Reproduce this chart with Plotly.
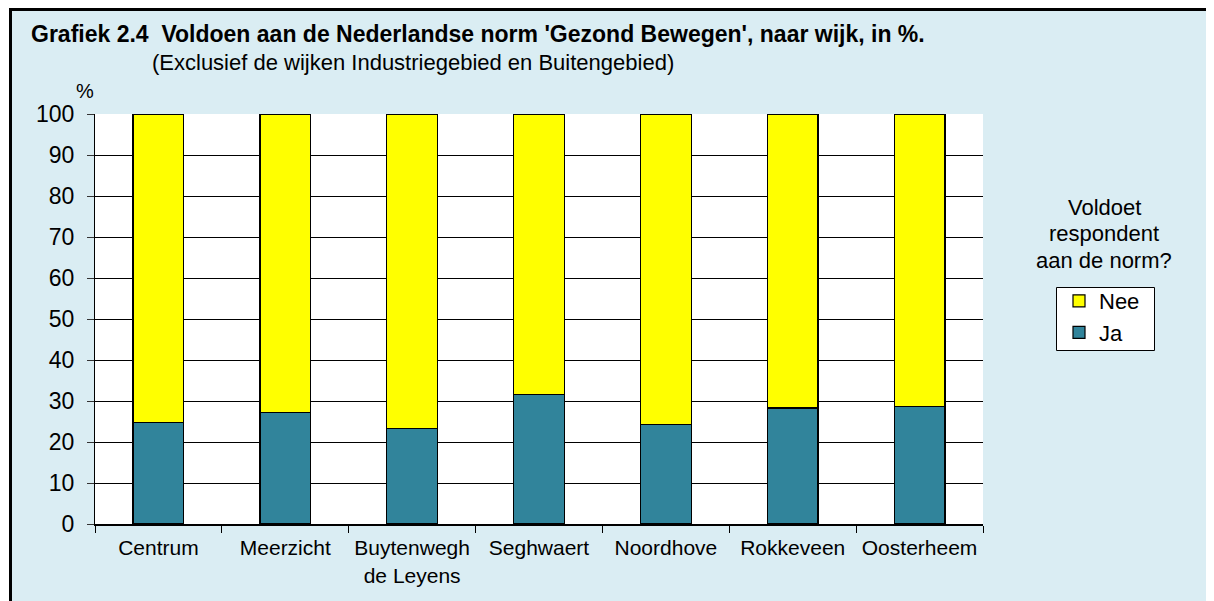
import plotly.graph_objects as go

wijken = ["Centrum", "Meerzicht", "Buytenwegh<br>de Leyens", "Seghwaert",
          "Noordhove", "Rokkeveen", "Oosterheem"]
ja = [24.7, 27.2, 23.3, 31.5, 24.3, 28.3, 28.7]
nee = [round(100 - v, 1) for v in ja]
y_ticks = list(range(0, 101, 10))
legend_title = ["Voldoet", "respondent", "aan de norm?"]

FONT = "Arial, Liberation Sans, sans-serif"
BG = "#DAEDF3"
OFF = 8  # page body margin
W, H = 1214 - OFF, 601 - OFF
# plot area in screen pixels
SL, SR, ST, SB = 95, 983, 114, 524
L, T = SL - OFF, ST - OFF
R, B = W - (SR - OFF), H - (SB - OFF)
pw, ph = SR - SL, SB - ST


def px(x):
    return (x - SL) / pw


def py(y):
    return (SB - y) / ph


fig = go.Figure()
fig.add_trace(go.Bar(x=wijken, y=ja, name="Ja", legendrank=2,
                     marker=dict(color="#31849B", line=dict(color="black", width=1.2)),
                     width=0.4))
fig.add_trace(go.Bar(x=wijken, y=nee, name="Nee", legendrank=1,
                     marker=dict(color="#FFFF00", line=dict(color="black", width=1.2)),
                     width=0.4))

annotations = [
    dict(text="<b>Grafiek 2.4  Voldoen aan de Nederlandse norm 'Gezond Bewegen', naar wijk, in %.</b>",
         xref="paper", yref="paper", x=px(30), y=py(34), xanchor="left", yanchor="middle",
         showarrow=False, font=dict(size=23), borderpad=0),
    dict(text="(Exclusief de wijken Industriegebied en Buitengebied)",
         xref="paper", yref="paper", x=px(151), y=py(63), xanchor="left", yanchor="middle",
         showarrow=False, font=dict(size=22), borderpad=0),
    dict(text="%", xref="paper", yref="paper", x=px(85), y=py(91), xanchor="center", yanchor="middle",
         showarrow=False, font=dict(size=20), borderpad=0),
]
for i, line in enumerate(legend_title):
    annotations.append(dict(text=line, xref="paper", yref="paper",
                            x=px(1104), y=py(207 + 26.5 * i), xanchor="center", yanchor="middle",
                            showarrow=False, font=dict(size=22), borderpad=0))

fig.update_layout(
    width=W, height=H,
    margin=dict(l=L, r=R, t=T, b=B),
    barmode="stack",
    paper_bgcolor="white",
    plot_bgcolor="rgba(0,0,0,0)",
    font=dict(family=FONT, size=22, color="black"),
    showlegend=True,
    legend=dict(x=px(1059), y=py(280), xanchor="left", yanchor="top",
                bgcolor="rgba(0,0,0,0)", borderwidth=0,
                traceorder="normal",
                font=dict(family=FONT, size=22)),
    xaxis=dict(tickson="boundaries", ticks="outside", ticklen=7, tickcolor="black",
               showline=True, linecolor="black", linewidth=2, showgrid=False,
               tickfont=dict(size=21), ticklabelstandoff=4),
    yaxis=dict(range=[0, 100], tickvals=y_ticks, ticks="outside", ticklen=7, tickcolor="#333333",
               showline=True, linecolor="black", linewidth=1, showgrid=True,
               gridcolor="black", gridwidth=1, zeroline=False, tickfont=dict(size=23),
               ticklabelstandoff=8),
    shapes=[
        dict(type="rect", xref="paper", yref="paper", layer="below",
             x0=px(10.5), x1=px(1260), y0=py(9.5), y1=py(660),
             fillcolor=BG, line=dict(color="black", width=3)),
        dict(type="rect", xref="paper", yref="paper", layer="below",
             x0=0, x1=1, y0=0, y1=1, fillcolor="white", line=dict(width=0)),
        dict(type="rect", xref="paper", yref="paper", layer="below",
             x0=px(1056.5), x1=px(1154.5), y0=py(287.5), y1=py(350.5),
             fillcolor="white", line=dict(color="black", width=1)),
    ],
    annotations=annotations,
)

fig.write_html("out.html")
